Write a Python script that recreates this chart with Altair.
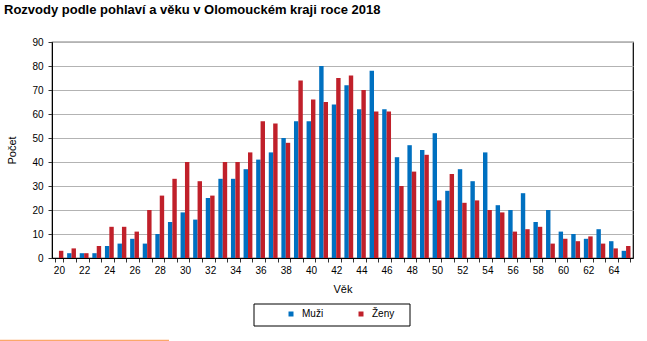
import altair as alt
import pandas as pd

ages = list(range(20, 66))
muzi = [0, 2, 2, 2, 5, 6, 8, 6, 10, 15, 19, 16, 25, 33, 33, 37, 41, 44, 50, 57, 57, 80, 64,
        72, 62, 78, 62, 42, 47, 45, 52, 28, 37, 32, 44, 22, 20, 27, 15, 20, 11, 10, 8, 12, 7, 3]
zeny = [3, 4, 2, 5, 13, 13, 11, 20, 26, 33, 40, 32, 26, 40, 40, 44, 57, 56, 48, 74, 66, 65, 75,
        76, 70, 61, 61, 30, 36, 43, 24, 35, 23, 24, 20, 19, 11, 12, 13, 6, 8, 7, 9, 6, 4, 5]
series = ["Muži", "Ženy"]
colors = ["#0070c0", "#c0202a"]
y_ticks = list(range(0, 91, 10))

rows = []
for a, m, z in zip(ages, muzi, zeny):
    rows.append({"age": a, "sex": series[0], "count": m})
    rows.append({"age": a, "sex": series[1], "count": z})
df = pd.DataFrame(rows)

FONT = "Liberation Sans"

bars = alt.Chart(df).mark_bar().encode(
    x=alt.X("age:O", title="Věk",
            scale=alt.Scale(paddingInner=0.3),
            axis=alt.Axis(labelAngle=0, tickBand="extent", labelOverlap=False,
                          labelExpr="datum.value % 2 == 0 ? datum.label : ''",
                          tickSize=4, labelPadding=3, titlePadding=8,
                          domainColor="#000", tickColor="#333", grid=False,
                          labelFontSize=10, titleFontSize=11, titleFontWeight="normal",
                          labelColor="#000", titleColor="#000")),
    xOffset=alt.XOffset("sex:N", sort=series),
    y=alt.Y("count:Q", title="Počet",
            scale=alt.Scale(domain=[0, 90], nice=False),
            axis=alt.Axis(values=y_ticks, tickSize=4, labelPadding=5, titlePadding=14,
                          domainColor="#000", tickColor="#333", grid=True,
                          gridColor="#b3b3b3", gridWidth=1,
                          labelFontSize=10, titleFontSize=11, titleFontWeight="normal",
                          labelColor="#000", titleColor="#000")),
    color=alt.Color("sex:N", sort=series,
                    scale=alt.Scale(domain=series, range=colors),
                    legend=alt.Legend(title=None, orient="none", direction="horizontal",
                                      legendX=234, legendY=267, padding=0,
                                      symbolType="square", symbolSize=25,
                                      symbolStrokeWidth=0, labelOffset=6,
                                      columnPadding=32, labelFontSize=10,
                                      labelColor="#000", labelFont=FONT)),
)

box = alt.Chart(alt.Data(values=[{}])).mark_rect(
    fill=None, stroke="#000", strokeWidth=1
).encode(x=alt.value(202), x2=alt.value(358), y=alt.value(262), y2=alt.value(284))

orange = alt.Chart(alt.Data(values=[{}])).mark_rule(
    color="#fba86a", strokeWidth=1.5
).encode(x=alt.value(-52), x2=alt.value(117), y=alt.value(298.5))

chart = alt.layer(bars, box, orange).properties(
    width=581, height=216,
    title=alt.TitleParams("Rozvody podle pohlaví a věku v Olomouckém kraji roce 2018",
                          anchor="start", frame="group", dx=-48, offset=20,
                          fontSize=13, fontWeight="bold", font=FONT, color="#000"),
    autosize=alt.AutoSizeParams(type="none"),
    padding={"left": 52, "top": 42, "right": 14, "bottom": 83},
).configure(font=FONT).configure_view(stroke="#000", strokeWidth=1.2)

chart.save("out.html", embed_options={"renderer": "svg", "actions": False})
